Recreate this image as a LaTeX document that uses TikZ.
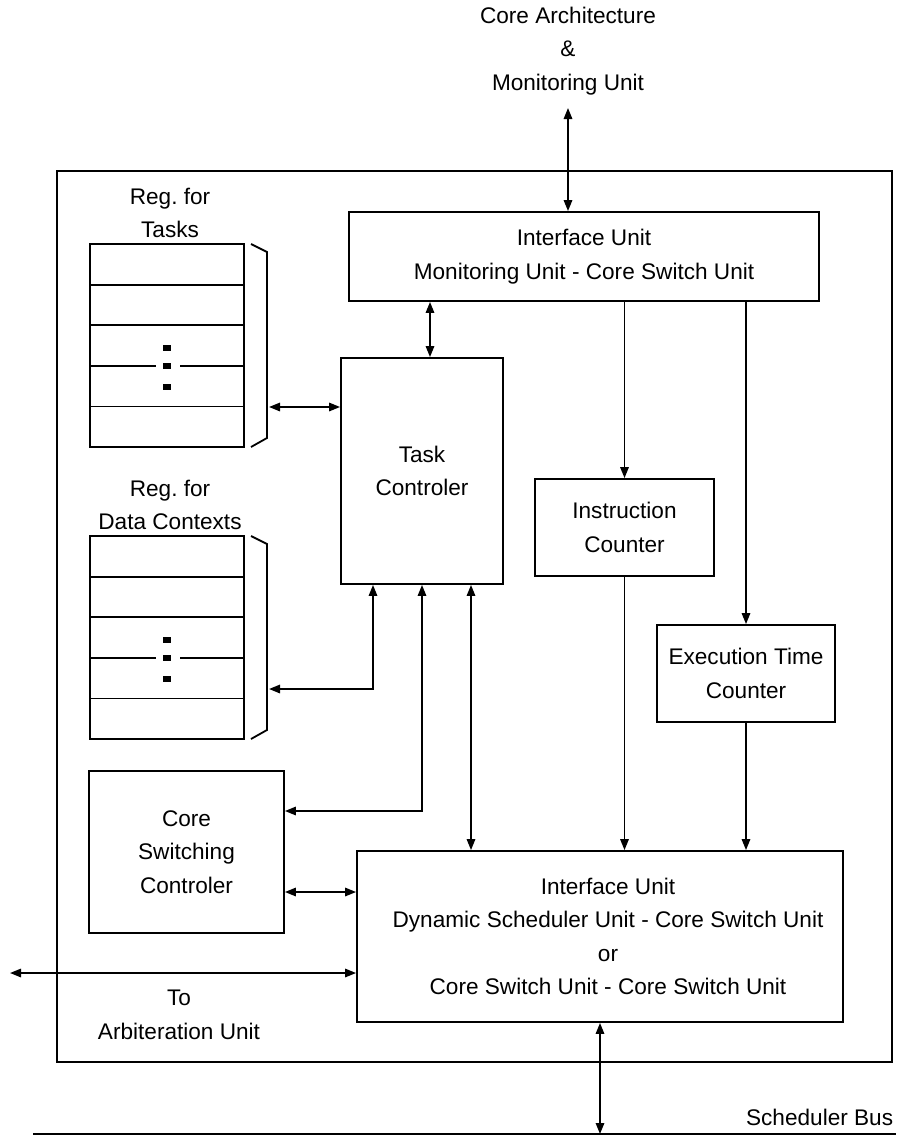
\documentclass[tikz,border=0pt]{standalone}
\usepackage{fontspec}
\setmainfont{Liberation Sans}
\usetikzlibrary{arrows.meta,positioning}

\begin{document}
\begin{tikzpicture}[
    x=0.5pt, y=-0.5pt,
    font=\fontsize{11.3pt}{16.8pt}\selectfont,
    line width=0.9pt,
    every node/.style = {align=center},
    unit/.style  = {draw, rectangle, inner sep=0pt, line width=0.9pt},
    lbl/.style   = {inner sep=0pt},
    arr/.style   = {-{Triangle[length=5.5pt,width=4.2pt]}},
    dbl/.style   = {{Triangle[length=5.5pt,width=4.2pt]}-{Triangle[length=5.5pt,width=4.2pt]}},
]
\useasboundingbox (0,0) rectangle (896,1135);

% ---------------- Frame ----------------
\node[unit, minimum width=417.5pt, minimum height=445.5pt] (frame) at (474.5,616.5) {};

% ---------------- Top ----------------
\node[lbl] (core) at (568,51) {Core Architecture\\\&\\Monitoring Unit};
\node[unit, minimum width=235pt, minimum height=44.5pt] (ifTop) at (584,256.5)
    {Interface Unit\\Monitoring Unit - Core Switch Unit};

% ---------------- Registers ----------------
\node[lbl] (tRegLbl) at (170,213) {Reg.\ for\\Tasks};
\node[unit, minimum width=77pt, minimum height=101.5pt] (tReg) at (167,345.5) {};
\node[lbl] (dRegLbl) at (170,505) {Reg.\ for\\Data Contexts};
\node[unit, minimum width=77pt, minimum height=101.5pt] (dReg) at (167,637.5) {};

\foreach \t in {244,536} {
  \draw (90,\t+40.6) -- (244,\t+40.6);
  \draw (90,\t+81.2) -- (244,\t+81.2);
  \draw (90,\t+121.8) -- (156,\t+121.8) (180,\t+121.8) -- (244,\t+121.8);
  \draw (90,\t+162.4) -- (244,\t+162.4);
  \fill (163,\t+101) rectangle (171,\t+107);
  \fill (163,\t+118.8) rectangle (171,\t+124.8);
  \fill (163,\t+140) rectangle (171,\t+146);
  \draw (251,\t) -- (267,\t+8) -- (267,\t+194) -- (251,\t+203);
}

% ---------------- Controllers and counters ----------------
\node[unit, minimum width=81pt, minimum height=113pt] (task) at (422,471) {Task\\Controler};
\node[unit, minimum width=89.5pt, minimum height=48.5pt] (instr) at (624.5,527.5) {Instruction\\Counter};
\node[unit, minimum width=89pt, minimum height=48.5pt] (exec) at (746,673.5) {Execution Time\\Counter};
\node[unit, minimum width=97.5pt, minimum height=81pt] (csc) at (186.5,852) {Core\\Switching\\Controler};
\node[unit, minimum width=243pt, minimum height=85.5pt] (ifBot) at (600,936.5)
    {\hspace*{8pt}Interface Unit\\\hspace*{8pt}Dynamic Scheduler Unit - Core Switch Unit\\\hspace*{8pt}or\\\hspace*{8pt}Core Switch Unit - Core Switch Unit};

% ---------------- Bottom ----------------
\node[lbl] (arbLbl) at (179,1015) {To\\Arbiteration Unit};
\coordinate (busL) at (33,1134);
\coordinate (busR) at (896,1134);
\node[lbl, anchor=east] (busLbl) at (894,1117) {Scheduler Bus};

% ---------------- Arrows ----------------
\coordinate (coreIn) at (568,108);
\draw[dbl] (coreIn) -- (ifTop.north -| coreIn);

\draw[dbl] (ifTop.south -| 430,0) -- (task.north -| 430,0);

\coordinate (tBrace) at (269,407);
\draw[dbl] (tBrace) -- (task.west |- tBrace);

\coordinate (dBrace) at (269,689);
\draw[dbl] (task.south -| 373,0) |- (dBrace);

\draw[dbl] (task.south) |- (csc.east |- 0,811);

\draw[dbl] (task.south -| 471,0) -- (ifBot.north -| 471,0);

\draw[arr] (ifTop.south -| instr.north) -- (instr.north);
\draw[arr] (instr.south) -- (ifBot.north -| instr.south);

\draw[arr] (ifTop.south -| exec.north) -- (exec.north);
\draw[arr] (exec.south) -- (ifBot.north -| exec.south);

\draw[dbl] (csc.east |- 0,892) -- (ifBot.west |- 0,892);

\coordinate (arbOut) at (10,973);
\draw[dbl] (arbOut) -- (ifBot.west |- arbOut);

\draw (busL) -- (busR);
\draw[dbl] (ifBot.south) -- (ifBot.south |- busL);

\end{tikzpicture}
\end{document}
